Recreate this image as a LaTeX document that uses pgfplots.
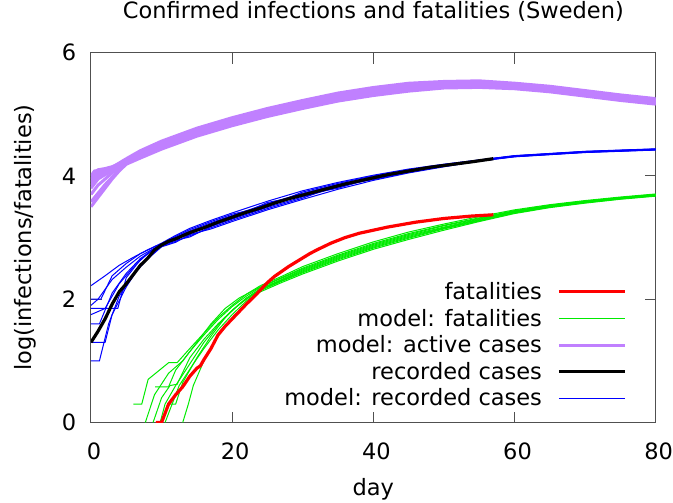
\documentclass[border=0pt]{standalone}
\usepackage{fontspec}
\setmainfont{DejaVu Sans}
\usepackage{pgfplots}
\usepackage{pgfplotstable}
\pgfplotsset{compat=1.18}
\definecolor{cred}{RGB}{255,0,0}
\definecolor{cgreen}{RGB}{0,235,0}
\definecolor{cpurple}{RGB}{192,128,255}
\definecolor{cblue}{RGB}{0,0,255}
\definecolor{caxis}{RGB}{80,80,80}

\pgfplotstableread{
d b1 b2 b3 b4 b5 b6 b7 b8
10 2.85 2.86 2.87 2.876 2.884 2.89 2.90 2.91
12 2.924 2.94 2.956 2.972 2.988 3.004 3.02 3.036
14 3.05 3.03 3.01 3.07 3.09 3.11 3.13 3.15
17 3.14 3.16 3.18 3.20 3.22 3.24 3.26 3.28
20 3.26 3.28 3.30 3.32 3.34 3.36 3.38 3.40
25 3.45 3.47 3.49 3.57 3.53 3.55 3.51 3.59
30 3.62 3.64 3.66 3.68 3.70 3.72 3.74 3.76
35 3.784 3.848 3.816 3.832 3.80 3.864 3.88 3.896
40 3.928 3.94 3.952 3.964 3.976 3.988 4.00 4.012
45 4.049 4.058 4.067 4.076 4.085 4.094 4.103 4.112
50 4.149 4.155 4.161 4.167 4.173 4.179 4.185 4.191
55 4.24 4.243 4.246 4.249 4.251 4.254 4.257 4.26
60 4.31 4.313 4.316 4.319 4.321 4.324 4.327 4.33
70 4.38 4.383 4.386 4.389 4.391 4.394 4.397 4.40
80 4.42 4.423 4.426 4.429 4.431 4.434 4.437 4.44
}\bluetail

\pgfplotstableread{
d p1 p2 p3 p4 p5 p6 p7 p8
5 4.19 4.20 4.21 4.22 4.24 4.25 4.26 4.28
7 4.29 4.31 4.33 4.34 4.36 4.37 4.39 4.41
10 4.435 4.453 4.474 4.491 4.509 4.526 4.547 4.565
15 4.645 4.663 4.684 4.701 4.719 4.736 4.757 4.775
20 4.815 4.833 4.854 4.871 4.889 4.906 4.927 4.945
25 4.965 4.983 5.004 5.021 5.039 5.056 5.077 5.095
30 5.095 5.113 5.134 5.151 5.169 5.186 5.207 5.225
35 5.215 5.233 5.254 5.271 5.289 5.306 5.327 5.345
40 5.305 5.323 5.344 5.361 5.379 5.396 5.417 5.435
45 5.376 5.393 5.414 5.431 5.449 5.466 5.487 5.504
50 5.427 5.441 5.459 5.473 5.487 5.501 5.519 5.533
55 5.437 5.451 5.469 5.483 5.497 5.511 5.529 5.543
60 5.415 5.427 5.442 5.454 5.466 5.478 5.493 5.505
65 5.365 5.377 5.392 5.404 5.416 5.428 5.443 5.455
70 5.295 5.307 5.322 5.334 5.346 5.358 5.373 5.385
75 5.225 5.237 5.252 5.264 5.276 5.288 5.303 5.315
80 5.165 5.177 5.192 5.204 5.216 5.228 5.243 5.255
}\purpletail

\pgfplotstableread{
d g1 g2 g3 g4 g5 g6 g7 g8
24 2.12 2.14 2.15 2.16 2.17 2.19 2.20 2.22
27 2.27 2.29 2.30 2.31 2.32 2.34 2.35 2.37
30 2.41 2.43 2.445 2.46 2.475 2.49 2.505 2.53
35 2.62 2.64 2.655 2.67 2.685 2.70 2.715 2.74
40 2.81 2.83 2.845 2.86 2.875 2.89 2.905 2.93
45 2.97 2.99 3.005 3.02 3.035 3.05 3.065 3.09
50 3.12 3.14 3.15 3.16 3.17 3.19 3.20 3.22
55 3.26 3.27 3.28 3.29 3.30 3.31 3.32 3.34
60 3.39 3.40 3.408 3.415 3.423 3.43 3.438 3.45
65 3.486 3.494 3.50 3.506 3.512 3.518 3.524 3.534
70 3.559 3.566 3.571 3.577 3.582 3.587 3.592 3.601
75 3.622 3.628 3.633 3.637 3.642 3.646 3.651 3.658
80 3.672 3.678 3.683 3.687 3.692 3.696 3.701 3.708
}\greentail

\begin{document}
\fontsize{22.5bp}{27bp}\selectfont
\begin{tikzpicture}
\begin{axis}[
  scale only axis, width=565bp, height=370bp,
  xmin=0, xmax=80, ymin=0, ymax=6,
  xtick={0,20,40,60,80}, ytick={0,2,4,6},
  tick align=inside, major tick length=11bp,
  axis line style={caxis, line width=1bp},
  every tick/.style={caxis, line width=1bp},
  /pgf/number format/assume math mode=true,
  xticklabel style={anchor=north, inner sep=0pt, yshift=-20bp, xshift=3bp},
  yticklabel style={anchor=east, inner sep=0pt, xshift=-14.5bp},
  title={Confirmed infections and fatalities (Sweden)},
  title style={at={(axis description cs:0.5,1)}, anchor=base, yshift=28bp, inner sep=0pt},
  xlabel={day},
  xlabel style={at={(axis description cs:0.5,0)}, anchor=base, yshift=-73bp, inner sep=0pt},
  ylabel={log(infections/fatalities)},
  ylabel style={at={(axis description cs:-0.1168,0.5)}, anchor=center, inner sep=0pt},
  legend cell align=right,
  legend plot pos=right,
  legend style={draw=none, fill=none, inner sep=0pt, outer sep=0pt,
    at={(axis description cs:1,1)}, anchor=north east, xshift=-29.3bp, yshift=-229.6bp,
    row sep=7.2bp, column sep=15.3bp,
    nodes={inner sep=0pt, text height=17.4bp, text depth=2bp}},
  legend image code/.code={\draw[#1] (0bp,0bp) -- (66bp,0bp);},
  thinb/.style={cblue, line width=1bp, forget plot},
  thing/.style={cgreen, line width=1bp, forget plot},
  thickp/.style={cpurple, line width=3bp, forget plot},
]
% ---------- model: active cases (purple) ----------
\addplot[thickp] coordinates {(0,3.50)(1,3.65)(2,3.8)(3,3.95)(4,4.08)(5,4.19)};
\addplot[thickp] coordinates {(0,3.58)(1,3.72)(2,3.86)(3,3.98)(4,4.1)(5,4.20)};
\addplot[thickp] coordinates {(0,3.7)(1,3.85)(2,3.95)(3,4.05)(4,4.13)(5,4.21)};
\addplot[thickp] coordinates {(0,3.8)(1,3.95)(2,4.02)(3,4.08)(4,4.15)(5,4.22)};
\addplot[thickp] coordinates {(0,3.85)(1,4.0)(2,4.05)(3,4.1)(4,4.17)(5,4.24)};
\addplot[thickp] coordinates {(0,3.9)(1,4.05)(2,4.08)(3,4.12)(4,4.19)(5,4.25)};
\addplot[thickp] coordinates {(0,3.95)(1,4.1)(2,4.12)(3,4.15)(4,4.2)(5,4.26)};
\addplot[thickp] coordinates {(0,4.0)(0.5,4.08)(1.5,4.1)(2,4.06)(3,4.14)(4,4.21)(5,4.28)};
\addplot[thickp] table[x=d,y=p1] {\purpletail};
\addplot[thickp] table[x=d,y=p2] {\purpletail};
\addplot[thickp] table[x=d,y=p3] {\purpletail};
\addplot[thickp] table[x=d,y=p4] {\purpletail};
\addplot[thickp] table[x=d,y=p5] {\purpletail};
\addplot[thickp] table[x=d,y=p6] {\purpletail};
\addplot[thickp] table[x=d,y=p7] {\purpletail};
\addplot[thickp] table[x=d,y=p8] {\purpletail};
% ---------- model: recorded cases (blue) ----------
\addplot[thinb] coordinates {(0,1.0)(1.2,1.0)(2.5,1.6)(4,2.05)(6,2.4)(8,2.65)(10,2.85)};
\addplot[thinb] coordinates {(0,1.3)(2,1.3)(3,1.75)(5,2.2)(7,2.55)(9,2.76)(10,2.86)};
\addplot[thinb] coordinates {(0,1.6)(1.2,1.6)(3,2.1)(5,2.42)(7,2.66)(9,2.82)(10,2.87)};
\addplot[thinb] coordinates {(0,1.85)(3.8,1.85)(5,2.35)(7,2.64)(9,2.82)(10,2.876)};
\addplot[thinb] coordinates {(0,1.75)(2,1.85)(4,2.25)(6,2.52)(8,2.74)(10,2.884)};
\addplot[thinb] coordinates {(0,1.9)(1,2.0)(3,2.32)(5,2.52)(7,2.7)(9,2.83)(10,2.89)};
\addplot[thinb] coordinates {(0,2.0)(1.4,2.0)(3,2.38)(5,2.58)(7,2.74)(9,2.85)(10,2.90)};
\addplot[thinb] coordinates {(0,2.22)(2,2.38)(4,2.55)(6,2.68)(8,2.8)(10,2.91)};
\addplot[thinb] table[x=d,y=b1] {\bluetail};
\addplot[thinb] table[x=d,y=b2] {\bluetail};
\addplot[thinb] table[x=d,y=b3] {\bluetail};
\addplot[thinb] table[x=d,y=b4] {\bluetail};
\addplot[thinb] table[x=d,y=b5] {\bluetail};
\addplot[thinb] table[x=d,y=b6] {\bluetail};
\addplot[thinb] table[x=d,y=b7] {\bluetail};
\addplot[thinb] table[x=d,y=b8] {\bluetail};
% ---------- recorded cases (black) ----------
\addplot[black, line width=3.2bp, forget plot] coordinates {
(0,1.30)(1,1.48)(2,1.68)(3,1.92)(4,2.12)(5,2.25)(6,2.40)(7,2.55)(8,2.66)(9,2.80)
(10,2.88)(11,2.94)(12,2.98)(13,3.03)(14,3.08)(16,3.16)(18,3.25)(20,3.33)(22,3.41)
(24,3.48)(26,3.56)(28,3.63)(30,3.69)(32,3.75)(34,3.81)(36,3.87)(38,3.92)(40,3.97)
(42,4.02)(44,4.06)(46,4.10)(48,4.14)(50,4.17)(52,4.20)(54,4.23)(57,4.28)};
% ---------- model: fatalities (green) ----------
\addplot[thing] coordinates {(13,0)(13.8,0.3)(14.5,0.6)(16,1.0)(18,1.4)(20,1.7)(22,1.93)(24,2.12)};
\addplot[thing] coordinates {(10.5,0)(11.5,0.3)(12.5,0.6)(14.5,0.95)(16,1.2)(18,1.5)(20,1.75)(22,1.97)(24,2.14)};
\addplot[thing] coordinates {(9.8,0)(10.5,0.3)(12,0.6)(14,0.95)(16,1.3)(18,1.58)(20,1.82)(22,2.0)(24,2.15)};
\addplot[thing] coordinates {(11,0.3)(12,0.3)(13,0.65)(15,1.05)(17,1.4)(19,1.7)(21,1.92)(24,2.16)};
\addplot[thing] coordinates {(8.8,0)(10,0.4)(11.2,0.6)(12.2,0.62)(14,1.05)(16,1.35)(18,1.6)(20,1.82)(22,2.02)(24,2.17)};
\addplot[thing] coordinates {(9.1,0.58)(11,0.58)(12,0.85)(14,1.15)(16,1.42)(18,1.67)(20,1.88)(22,2.05)(24,2.19)};
\addplot[thing] coordinates {(7.7,0)(9,0.45)(11,0.8)(13,1.0)(15,1.3)(17,1.6)(19,1.85)(21,2.02)(24,2.20)};
\addplot[thing] coordinates {(6,0.30)(7.2,0.30)(8.1,0.70)(11,0.97)(12.2,0.97)(14,1.2)(16,1.45)(18,1.7)(20,1.9)(22,2.08)(24,2.22)};
\addplot[thing] table[x=d,y=g1] {\greentail};
\addplot[thing] table[x=d,y=g2] {\greentail};
\addplot[thing] table[x=d,y=g3] {\greentail};
\addplot[thing] table[x=d,y=g4] {\greentail};
\addplot[thing] table[x=d,y=g5] {\greentail};
\addplot[thing] table[x=d,y=g6] {\greentail};
\addplot[thing] table[x=d,y=g7] {\greentail};
\addplot[thing] table[x=d,y=g8] {\greentail};
% ---------- fatalities (red) ----------
\addplot[cred, line width=3.2bp, forget plot] coordinates {
(9.2,0)(10,0)(11,0.3)(12,0.45)(13,0.58)(14,0.75)(15,0.88)(15.5,0.92)(16,1.02)(17,1.2)
(18,1.42)(19,1.56)(20,1.68)(21,1.8)(22,1.92)(23,2.03)(24,2.15)(25,2.27)(26,2.37)
(27,2.45)(28,2.53)(29,2.60)(30,2.67)(31,2.74)(32,2.80)(34,2.91)(36,3.00)(38,3.07)
(40,3.12)(42,3.17)(44,3.21)(46,3.25)(48,3.28)(50,3.31)(52,3.33)(54,3.35)(57,3.37)};
% ---------- legend ----------
\addlegendimage{cred, line width=3.2bp}
\addlegendentry{fatalities}
\addlegendimage{cgreen, line width=1bp}
\addlegendentry{model: fatalities}
\addlegendimage{cpurple, line width=3bp}
\addlegendentry{model: active cases}
\addlegendimage{black, line width=3.2bp}
\addlegendentry{recorded cases}
\addlegendimage{cblue, line width=1bp}
\addlegendentry{model: recorded cases}
\end{axis}
\path (current axis.south west) ++(-91bp,-80.3bp) rectangle ++(673bp,503bp);
\end{tikzpicture}
\end{document}
